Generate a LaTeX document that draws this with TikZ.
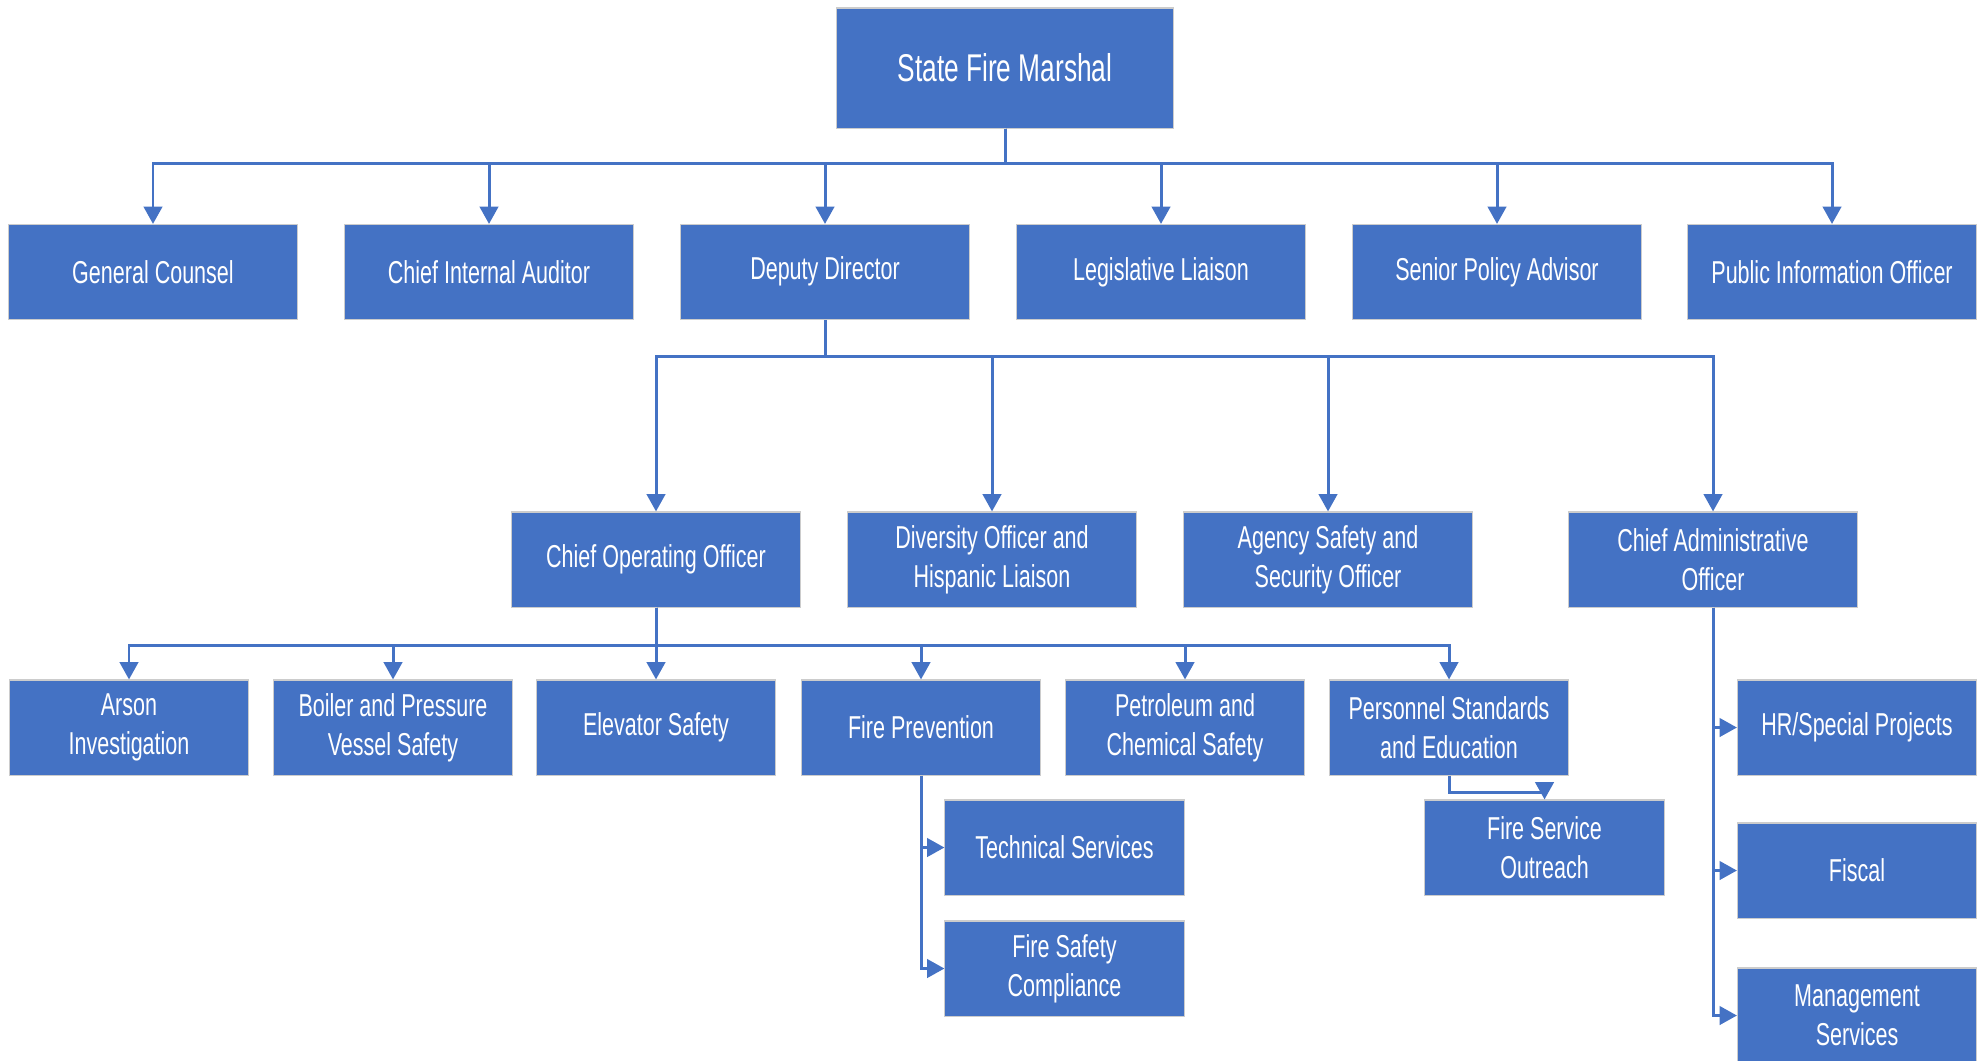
\documentclass[tikz,border=0pt]{standalone}
\usepackage{fontspec}
\setmainfont[FakeStretch=0.68]{Liberation Sans}
\usetikzlibrary{arrows.meta}
\definecolor{boxblue}{HTML}{4472C4}
\tikzset{
    box/.style={fill=boxblue, draw=black!20, line width=0.3pt, text=white, align=center,
        font=\fontsize{9}{11.2}\selectfont, minimum height=0.95cm, inner sep=1pt},
    wide/.style={box, minimum width=2.88cm},
    narrow/.style={box, minimum width=2.39cm},
    arr/.style={draw=boxblue, line width=0.85pt, -{Triangle[length=4.9pt,width=5.2pt]}},
    ln/.style={draw=boxblue, line width=0.85pt}
}
\begin{document}
\begin{tikzpicture}[x=0.01cm, y=-0.01cm]
\useasboundingbox (0,0) rectangle (1986,1060);

\node[box, minimum width=3.36cm, minimum height=1.2cm, font=\fontsize{11}{13}\selectfont] (sfm) at (1005,68) {State Fire Marshal};

\node[wide] (gc) at (153,272) {General Counsel};
\node[wide] (cia) at (489,272) {Chief Internal Auditor};
\node[wide] (dd) at (825,272) {Deputy Director\strut};
\node[wide] (ll) at (1161,272) {Legislative Liaison};
\node[wide] (spa) at (1497,272) {Senior Policy Advisor};
\node[wide] (pio) at (1832,272) {Public Information Officer};

\node[wide] (coo) at (656,559.5) {Chief Operating Officer};
\node[wide] (dohl) at (992,559.5) {Diversity Officer and\\Hispanic Liaison};
\node[wide] (asso) at (1328,559.5) {Agency Safety and\\Security Officer};
\node[wide] (cao) at (1713,559.5) {Chief Administrative\\Officer};

\node[narrow] (ai) at (129,727.5) {Arson\\Investigation};
\node[narrow] (bpv) at (393,727.5) {Boiler and Pressure\\Vessel Safety};
\node[narrow] (es) at (656,727.5) {Elevator Safety};
\node[narrow] (fp) at (921,727.5) {Fire Prevention};
\node[narrow] (pcs) at (1185,727.5) {Petroleum and\\Chemical Safety};
\node[narrow] (pse) at (1449,727.5) {Personnel Standards\\and Education};

\node[narrow] (ts) at (1064.5,847.5) {Technical Services};
\node[narrow] (fsc) at (1064.5,968.5) {Fire Safety\\Compliance};
\node[narrow] (fso) at (1544.5,847.5) {Fire Service\\Outreach};

\node[narrow] (hr) at (1857,727.5) {HR/Special Projects};
\node[narrow] (fis) at (1857,870.5) {Fiscal};
\node[narrow] (ms) at (1857,1015.5) {Management\\Services};

% marshal
\draw[ln] (sfm.south) -- ++(0,35);
\foreach \n in {gc,cia,dd,ll,spa,pio}
    \draw[arr] (sfm.south) -- ++(0,35) -| (\n.north);

% deputy
\draw[ln] (dd.south) -- ++(0,36);
\foreach \n in {coo,dohl,asso,cao}
    \draw[arr] (dd.south) -- ++(0,36) -| (\n.north);

% operations
\draw[ln] (coo.south) -- ++(0,38);
\foreach \n in {ai,bpv,es,fp,pcs,pse}
    \draw[arr] (coo.south) -- ++(0,38) -| (\n.north);

\draw[arr] (fp.south) |- (ts.west);
\draw[arr] (fp.south) |- (fsc.west);
\draw[arr] (pse.south) -- ++(0,17) -| (fso.north);

% administration
\foreach \n in {hr,fis,ms}
    \draw[arr] (cao.south) |- (\n.west);

\end{tikzpicture}
\end{document}
